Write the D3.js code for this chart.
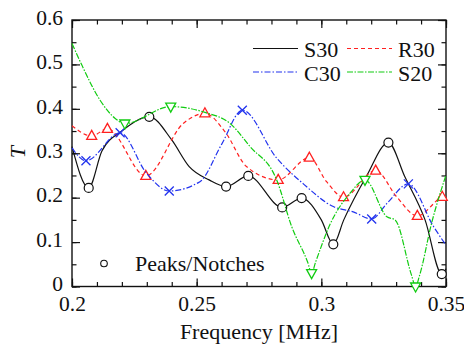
<!DOCTYPE html>
<html>
<head>
<meta charset="utf-8">
<script src="https://cdn.jsdelivr.net/npm/d3@7"></script>
<style>
  body { margin: 0; background: #fff; }
</style>
</head>
<body>
<script>
// S30 (solid black), markers at peaks/notches
var s30F = [0.200, 0.2067, 0.212, 0.220, 0.231, 0.240, 0.247, 0.255, 0.2618, 0.2707, 0.2843, 0.2921, 0.300, 0.3048, 0.309, 0.318, 0.3269, 0.3335, 0.3416, 0.3483, 0.350];
var s30T = [0.315, 0.222, 0.305, 0.350, 0.382, 0.330, 0.270, 0.240, 0.225, 0.249, 0.178, 0.199, 0.150, 0.095, 0.150, 0.247, 0.324, 0.247, 0.150, 0.028, 0.040];
var s30Pk = [1, 4, 8, 9, 10, 11, 13, 16, 19];

// R30 (dashed red)
var r30F = [0.200, 0.2079, 0.2142, 0.2296, 0.2446, 0.2533, 0.2614, 0.270, 0.2827, 0.2952, 0.3021, 0.3089, 0.3218, 0.3302, 0.3385, 0.3485, 0.350];
var r30T = [0.362, 0.339, 0.355, 0.249, 0.367, 0.390, 0.348, 0.270, 0.240, 0.290, 0.236, 0.201, 0.261, 0.202, 0.159, 0.202, 0.205];
var r30Pk = [1, 2, 3, 5, 8, 9, 11, 12, 14, 15];

// C30 (dash-dot blue)
var c30F = [0.200, 0.2056, 0.2193, 0.2299, 0.239, 0.2513, 0.260, 0.2683, 0.2821, 0.2930, 0.3048, 0.3128, 0.3202, 0.3263, 0.3349, 0.345, 0.350];
var c30T = [0.312, 0.283, 0.346, 0.255, 0.215, 0.236, 0.320, 0.397, 0.289, 0.230, 0.180, 0.168, 0.152, 0.187, 0.231, 0.135, 0.093];
var c30Pk = [1, 2, 4, 7, 12, 14];

// S20 (green)
var s20F = [0.200, 0.2039, 0.2112, 0.2172, 0.2212, 0.2396, 0.2533, 0.2634, 0.2714, 0.2821, 0.2881, 0.2945, 0.2961, 0.2977, 0.3035, 0.3115, 0.3175, 0.3263, 0.3296, 0.3362, 0.3378, 0.3394, 0.3442, 0.350];
var s20T = [0.547, 0.499, 0.420, 0.379, 0.367, 0.405, 0.392, 0.367, 0.315, 0.240, 0.135, 0.055, 0.030, 0.055, 0.140, 0.210, 0.240, 0.157, 0.150, 0.025, 0.000, 0.025, 0.142, 0.251];
var s20Pk = [4, 5, 12, 16, 20];

var legendNames = ["S30", "R30", "C30", "S20"];
var xMajor = [0.2, 0.25, 0.3, 0.35];
var yMajor = [0, 0.1, 0.2, 0.3, 0.4, 0.5, 0.6];

var serif = "Liberation Serif";

var w = 464, h = 349;
var svg = d3.select("body").append("svg")
    .attr("width", w)
    .attr("height", h);

var x = d3.scaleLinear().domain([0.2, 0.35]).range([72, 446]);
var y = d3.scaleLinear().domain([0, 0.6]).range([286.5, 20]);

var xMinor = d3.range(0.2, 0.3501, 0.01).map(function(d) { return +d.toFixed(3); });
var yMinor = d3.range(0, 0.6001, 0.05).map(function(d) { return +d.toFixed(3); });

function styleAxis(g) {
    g.attr("font-family", null).attr("font-size", null);
    g.select(".domain").remove();
    g.selectAll("line").attr("stroke", "#111").attr("stroke-width", 1.2);
    g.selectAll("text").attr("fill", "#111")
        .attr("font-family", serif).attr("font-size", 21.5);
}

// bottom axis with labels
svg.append("g").attr("transform", "translate(0," + y(0) + ")")
    .call(d3.axisBottom(x).tickValues(xMajor).tickSize(-8).tickPadding(9)
        .tickFormat(function(d) { return d === 0.25 || d === 0.35 ? d3.format(".2f")(d) : d3.format(".1f")(d); }))
    .call(styleAxis);
svg.append("g").attr("transform", "translate(0," + y(0) + ")")
    .call(d3.axisBottom(x).tickValues(xMinor).tickSize(-4.5).tickFormat(""))
    .call(styleAxis);
// top
svg.append("g").attr("transform", "translate(0," + y(0.6) + ")")
    .call(d3.axisTop(x).tickValues(xMajor).tickSize(-8).tickFormat(""))
    .call(styleAxis);
svg.append("g").attr("transform", "translate(0," + y(0.6) + ")")
    .call(d3.axisTop(x).tickValues(xMinor).tickSize(-4.5).tickFormat(""))
    .call(styleAxis);
// left with labels
svg.append("g").attr("transform", "translate(" + x(0.2) + ",0)")
    .call(d3.axisLeft(y).tickValues(yMajor).tickSize(-8).tickPadding(9)
        .tickFormat(function(d) { return d === 0 ? "0" : d3.format(".1f")(d); }))
    .call(styleAxis)
    .call(function(g) { g.selectAll("text").attr("dy", "0.2em"); });
svg.append("g").attr("transform", "translate(" + x(0.2) + ",0)")
    .call(d3.axisLeft(y).tickValues(yMinor).tickSize(-4.5).tickFormat(""))
    .call(styleAxis);
// right
svg.append("g").attr("transform", "translate(" + x(0.35) + ",0)")
    .call(d3.axisRight(y).tickValues(yMajor).tickSize(-8).tickFormat(""))
    .call(styleAxis);
svg.append("g").attr("transform", "translate(" + x(0.35) + ",0)")
    .call(d3.axisRight(y).tickValues(yMinor).tickSize(-4.5).tickFormat(""))
    .call(styleAxis);

// frame
svg.append("rect")
    .attr("x", x(0.2)).attr("y", y(0.6))
    .attr("width", x(0.35) - x(0.2)).attr("height", y(0) - y(0.6))
    .attr("fill", "none").attr("stroke", "#111").attr("stroke-width", 1.4);

var series = [
    { name: "S30", f: s30F, t: s30T, pk: s30Pk, color: "#111111", dash: null, mark: "circle" },
    { name: "R30", f: r30F, t: r30T, pk: r30Pk, color: "#ff2020", dash: "4,3", mark: "triUp" },
    { name: "C30", f: c30F, t: c30T, pk: c30Pk, color: "#2233ee", dash: "6,2,1.5,2", mark: "cross" },
    { name: "S20", f: s20F, t: s20T, pk: s20Pk, color: "#11cc11", dash: "6,1.5,1.5,1.5", mark: "triDown" }
];

var line = d3.line().curve(d3.curveMonotoneX)
    .x(function(d) { return x(d[0]); })
    .y(function(d) { return y(d[1]); });

var markPath = {
    triUp: "M0,-5.5L5,3.5L-5,3.5Z",
    triDown: "M0,5.5L5,-3.5L-5,-3.5Z",
    cross: "M-4.5,-4.5L4.5,4.5M-4.5,4.5L4.5,-4.5"
};

series.forEach(function(s) {
    var pts = s.f.map(function(f, i) { return [f, s.t[i]]; });
    svg.append("path")
        .datum(pts)
        .attr("d", line)
        .attr("fill", "none")
        .attr("stroke", s.color)
        .attr("stroke-width", 1.2)
        .attr("stroke-dasharray", s.dash);

    var pk = s.pk.map(function(i) { return pts[i]; });
    var g = svg.append("g");
    if (s.mark === "circle") {
        g.selectAll("circle").data(pk).enter().append("circle")
            .attr("cx", function(d) { return x(d[0]); })
            .attr("cy", function(d) { return y(d[1]); })
            .attr("r", 4.5)
            .attr("fill", "#fff").attr("stroke", s.color).attr("stroke-width", 1.2);
    } else {
        g.selectAll("path").data(pk).enter().append("path")
            .attr("transform", function(d) { return "translate(" + x(d[0]) + "," + y(d[1]) + ")"; })
            .attr("d", markPath[s.mark])
            .attr("fill", s.mark === "cross" ? "none" : "#fff")
            .attr("stroke", s.color).attr("stroke-width", 1.3);
    }
});

// legend
legendNames.forEach(function(name, i) {
    var s = series[i];
    var col = i % 2, row = Math.floor(i / 2);
    var lx = col === 0 ? 253 : 347;
    var ly = row === 0 ? 48.5 : 72;
    svg.append("line")
        .attr("x1", lx).attr("x2", lx + 45)
        .attr("y1", ly).attr("y2", ly)
        .attr("stroke", s.color).attr("stroke-width", 1.2)
        .attr("stroke-dasharray", s.dash);
    svg.append("text")
        .attr("x", lx + 51).attr("y", ly + 8.5)
        .attr("font-family", serif).attr("font-size", 22)
        .attr("fill", "#111")
        .text(name);
});

// peaks / notches note
svg.append("circle").attr("cx", 104).attr("cy", 263.5).attr("r", 3.3)
    .attr("fill", "#fff").attr("stroke", "#111").attr("stroke-width", 1.1);
svg.append("text").attr("x", 135).attr("y", 271)
    .attr("font-family", serif).attr("font-size", 22)
    .attr("fill", "#111")
    .text("Peaks/Notches");

// axis titles
svg.append("text")
    .attr("x", (x(0.2) + x(0.35)) / 2).attr("y", 339)
    .attr("text-anchor", "middle")
    .attr("font-family", serif).attr("font-size", 22)
    .attr("fill", "#111")
    .text("Frequency [MHz]");
svg.append("text")
    .attr("transform", "translate(25,152) rotate(-90)")
    .attr("text-anchor", "middle")
    .attr("font-family", serif).attr("font-size", 22)
    .attr("font-style", "italic")
    .attr("fill", "#111")
    .text("T");
</script>
</body>
</html>
